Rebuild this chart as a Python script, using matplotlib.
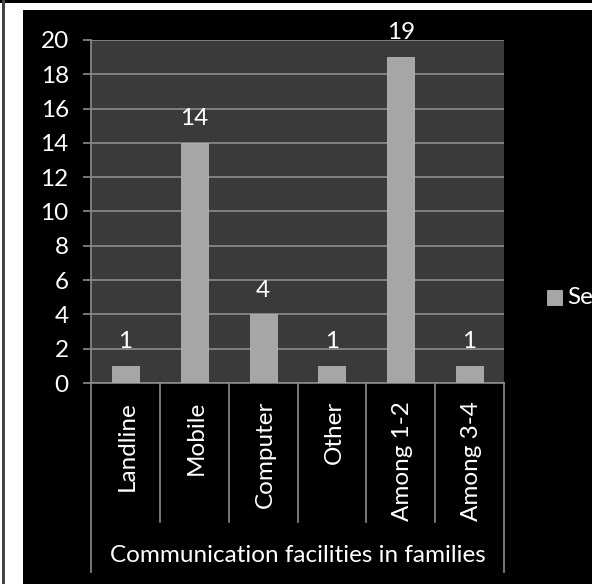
import matplotlib.pyplot as plt
from matplotlib.lines import Line2D
from matplotlib.patches import Rectangle

# chart data
categories = ["Landline", "Mobile", "Computer", "Other", "Among 1-2", "Among 3-4"]
values = [1, 14, 4, 1, 19, 1]
axis_title = "Communication facilities in families"
series_name = "Series1"

W, H = 592, 584
FS = 17.5
plt.rcParams['font.family'] = ['Lato', 'DejaVu Sans']

fig = plt.figure(figsize=(W / 100, H / 100), dpi=100)
fig.patch.set_facecolor('white')

# black chart area and thin frame lines
fig.add_artist(Rectangle((23 / W, 0), 1 - 23 / W, 1 - 10 / H, transform=fig.transFigure,
                         facecolor='black', edgecolor='none', zorder=0))
fig.add_artist(Rectangle((0, 1 - 3 / H), 1, 3 / H, transform=fig.transFigure,
                         facecolor='black', edgecolor='none', zorder=0))
fig.add_artist(Rectangle((2 / W, 0), 3 / W, 1, transform=fig.transFigure,
                         facecolor='#444444', edgecolor='none', zorder=0))

ax = fig.add_axes([91 / W, 1 - 383 / H, (504 - 91) / W, (383 - 40) / H])
ax.set_facecolor('#3a3a3a')

x = list(range(len(categories)))
bars = ax.bar(x, values, width=0.39, color='#a6a6a6', edgecolor='#b4b4b4',
              linewidth=0.6, zorder=3)

for xi, v in zip(x, values):
    ax.annotate(str(v), (xi, v), xytext=(0, 10), textcoords='offset points',
                ha='center', va='bottom', color='white', fontsize=FS,
                annotation_clip=False)

ax.set_xlim(-0.5, len(categories) - 0.5)
ax.set_ylim(0, 20)
ax.set_yticks(range(0, 21, 2))
ax.yaxis.grid(True, color='#8c8c8c', linewidth=1.2, zorder=1)
ax.set_axisbelow(True)
ax.tick_params(axis='y', colors='#8c8c8c', labelcolor='white', labelsize=FS,
               length=6, width=1.2, pad=10)
ax.set_xticks([])
for s in ['top', 'right']:
    ax.spines[s].set_visible(False)
ax.spines['left'].set_color('#8c8c8c')
ax.spines['bottom'].set_color('#8c8c8c')
ax.spines['left'].set_linewidth(1.2)
ax.spines['bottom'].set_linewidth(1.2)

# category labels and the grouping lines under the axis
to_fig = ax.transData + fig.transFigure.inverted()
y_axis_fig = 1 - 383 / H
y_lab_top = 1 - 401 / H
y_sep = 1 - 522 / H
y_out = 1 - 572 / H
for i, c in enumerate(categories):
    cx, _ = to_fig.transform((i, 0))
    fig.text(cx + 2 / W, y_lab_top, c, rotation=90, ha='center', va='top',
             color='white', fontsize=FS)
for k in range(len(categories) + 1):
    bx, _ = to_fig.transform((k - 0.5, 0))
    y_end = y_out if k in (0, len(categories)) else y_sep
    fig.add_artist(Line2D([bx, bx], [y_axis_fig, y_end], transform=fig.transFigure,
                          color='#8c8c8c', linewidth=1.2))
x0, _ = to_fig.transform((-0.5, 0))
x1, _ = to_fig.transform((len(categories) - 0.5, 0))
fig.text((x0 + x1) / 2, 1 - 556 / H, axis_title, ha='center', va='center',
         color='white', fontsize=FS)

# legend (cut off by the right edge as in the original)
fig.add_artist(Rectangle((547 / W, 1 - 305 / H), 15 / W, 15 / H, transform=fig.transFigure,
                         facecolor='#a6a6a6', edgecolor='#b4b4b4', linewidth=0.6))
fig.text(567 / W, 1 - 297 / H, series_name, ha='left', va='center',
         color='white', fontsize=FS)

fig.savefig('out.png', dpi=100, facecolor=fig.get_facecolor())
